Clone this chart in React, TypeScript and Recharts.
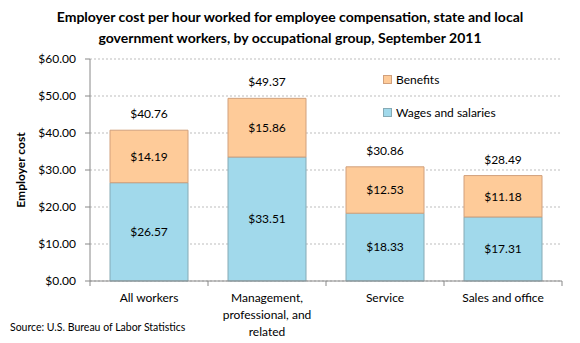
import React from 'react';
import { BarChart, Bar, XAxis, YAxis, CartesianGrid, LabelList, Legend } from 'recharts';

const categories = ['All workers', 'Management, professional, and related', 'Service', 'Sales and office'];
const wages = [26.57, 33.51, 18.33, 17.31];
const benefits = [14.19, 15.86, 12.53, 11.18];
const yTicks = [0, 10, 20, 30, 40, 50, 60];

const data = categories.map((name, i) => ({
  name,
  wages: wages[i],
  benefits: benefits[i],
  total: wages[i] + benefits[i]
}));

const FONT = 'Lato, "Open Sans", sans-serif';
const money = (v: number) => `$${Number(v).toFixed(2)}`;

// greedy wrap so the long category name breaks like in the original
const wrap = (s: string, max = 17) => {
  const lines: string[] = [];
  let cur = '';
  s.split(' ').forEach(w => {
    if (cur && (cur + ' ' + w).length > max) {
      lines.push(cur);
      cur = w;
    } else {
      cur = cur ? cur + ' ' + w : w;
    }
  });
  if (cur) lines.push(cur);
  return lines;
};

const HALF_BAND = 59;

const CategoryTick = ({ x, y, payload, index }: any) => {
  const lines = wrap(payload.value);
  return (
    <g>
      <line x1={x + HALF_BAND} y1={y} x2={x + HALF_BAND} y2={y + 5} stroke="#888" />
      {index === 0 && <line x1={x - HALF_BAND} y1={y} x2={x - HALF_BAND} y2={y + 5} stroke="#888" />}
      <text x={x} y={y + 21} textAnchor="middle" fontSize={12} fontFamily={FONT} fill="#000">
        {lines.map((l, i) => (
          <tspan key={i} x={x} dy={i === 0 ? 0 : 17}>{l}</tspan>
        ))}
      </text>
    </g>
  );
};

const TotalLabel = ({ x, y, width, index }: any) => (
  <text x={x + width / 2} y={y - 12} textAnchor="middle" fontSize={12} fontFamily={FONT} fill="#000">
    {money(data[index].total)}
  </text>
);

const renderLegend = ({ payload }: any) => {
  const items = payload || [];
  return (
    <div style={{ fontFamily: FONT, fontSize: 12, color: '#000' }}>
      {items.map((p: any, i: number) => (
        <div key={i} style={{ display: 'flex', alignItems: 'center', height: 17, marginBottom: i === 0 ? 16 : 0 }}>
          <span style={{ width: 7, height: 7, background: p.color, border: '1px solid ' + (p.payload?.stroke || '#888'), marginRight: 4 }} />
          <span>{p.value}</span>
        </div>
      ))}
    </div>
  );
};

export default function App() {
  return (
    <div style={{ position: 'absolute', left: 0, top: 0, width: 580, height: 343, background: '#fff', fontFamily: FONT }}>
      <div style={{ position: 'absolute', left: 0, top: 6, width: 580, textAlign: 'center', fontWeight: 700, fontSize: 14, lineHeight: '21px', color: '#000' }}>
        Employer cost per hour worked for employee compensation, state and local
        <br />
        government workers, by occupational group, September 2011
      </div>
      <div style={{ position: 'absolute', left: 20, top: 170, transform: 'translate(-50%, -50%) rotate(-90deg)', whiteSpace: 'nowrap', fontWeight: 700, fontSize: 12, color: '#000' }}>
        Employer cost
      </div>
      <div style={{ position: 'absolute', left: 10, top: 321, fontSize: 10.5, color: '#000' }}>
        Source: U.S. Bureau of Labor Statistics
      </div>
      <BarChart
        width={580}
        height={343}
        data={data}
        margin={{ top: 59, right: 18, bottom: 0, left: 0 }}
        barSize={78}
        style={{ position: 'absolute', left: 0, top: 0 }}
      >
        <CartesianGrid vertical={false} stroke="#bdbdbd" strokeDasharray="2 2" />
        <XAxis
          dataKey="name"
          interval={0}
          tickLine={false}
          tickSize={0}
          tickMargin={0}
          axisLine={{ stroke: '#888' }}
          tick={<CategoryTick />}
          height={62}
        />
        <YAxis
          width={90}
          domain={[0, 60]}
          ticks={yTicks}
          tickFormatter={money}
          tickSize={5}
          tickMargin={9}
          axisLine={{ stroke: '#888' }}
          tickLine={{ stroke: '#888' }}
          tick={{ fontSize: 12, fontFamily: FONT, fill: '#000' }}
          interval={0}
        />
        <Legend
          layout="vertical"
          align="center"
          verticalAlign="middle"
          wrapperStyle={{ left: 383, top: 71, width: 160 }}
          content={renderLegend}
        />
        <Bar dataKey="wages" name="Wages and salaries" stackId="a" fill="#A1D9EB" stroke="#86aab5" isAnimationActive={false}>
          <LabelList dataKey="wages" position="center" formatter={money} style={{ fontSize: 12, fontFamily: FONT, fill: '#000' }} />
        </Bar>
        <Bar dataKey="benefits" name="Benefits" stackId="a" fill="#FECB99" stroke="#d1a07c" isAnimationActive={false}>
          <LabelList dataKey="benefits" position="center" formatter={money} style={{ fontSize: 12, fontFamily: FONT, fill: '#000' }} />
          <LabelList dataKey="benefits" content={<TotalLabel />} />
        </Bar>
      </BarChart>
    </div>
  );
}
